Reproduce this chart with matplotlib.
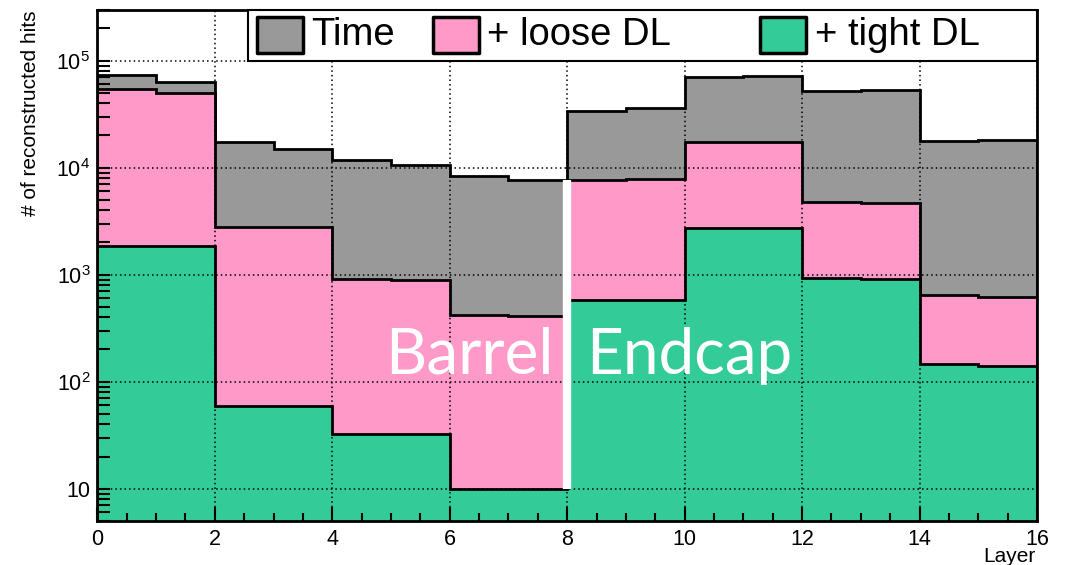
import numpy as np
import matplotlib
matplotlib.use('Agg')
import matplotlib.pyplot as plt
from matplotlib.patches import Rectangle
from matplotlib.ticker import LogLocator, MultipleLocator, FuncFormatter

plt.rcParams['font.family'] = ['Liberation Sans', 'DejaVu Sans']
plt.rcParams['mathtext.fontset'] = 'custom'
plt.rcParams['mathtext.rm'] = 'Liberation Sans'
plt.rcParams['mathtext.it'] = 'Liberation Sans:italic'

# layer bins 0..16
layer_edges = np.arange(0, 17)
time_hits = [7.4e4, 6.3e4, 1.74e4, 1.5e4, 1.19e4, 1.07e4, 8.4e3, 7.7e3,
             3.4e4, 3.6e4, 7.1e4, 7.2e4, 5.2e4, 5.3e4, 1.78e4, 1.8e4]
loose_hits = [5.4e4, 5.0e4, 2.8e3, 2.77e3, 910, 900, 423, 414,
              7.7e3, 7.8e3, 1.72e4, 1.75e4, 4.8e3, 4.7e3, 641, 614]
tight_hits = [1870, 1870, 59.7, 59, 32.7, 32.5, 10, 10,
              575, 580, 2710, 2730, 931, 910, 146, 141]
labels = ['Time', '+ loose DL', '+ tight DL']
colors = ['#999999', '#ff99c8', '#33cc99']

fig = plt.figure(figsize=(10.74, 5.65), dpi=100)
ax = fig.add_axes([0.0906, 0.078, 0.875, 0.905])

for vals, c in zip([time_hits, loose_hits, tight_hits], colors):
    ax.stairs(vals, layer_edges, baseline=1, fill=True,
              facecolor=c, edgecolor='black', linewidth=2)

# barrel / endcap divider
ax.vlines(layer_edges[8], tight_hits[7], time_hits[7], color='white', lw=6, zorder=2.6)

ax.set_yscale('log')
ax.set_xlim(0, 16)
ax.set_ylim(5, 3e5)

ax.xaxis.set_major_locator(MultipleLocator(2))
ax.xaxis.set_minor_locator(MultipleLocator(0.5))
ax.yaxis.set_major_locator(LogLocator(base=10, numticks=10))
ax.yaxis.set_minor_locator(LogLocator(base=10, subs=np.arange(2, 10), numticks=20))

def ylab(v, pos):
    n = int(round(np.log10(v)))
    return '10' if n == 1 else r'$10^{%d}$' % n

ax.yaxis.set_major_formatter(FuncFormatter(ylab))
ax.tick_params(which='both', direction='in', top=False, right=False, labelsize=15.5, width=1.5)
ax.tick_params(axis='x', which='major', length=10, pad=6)
ax.tick_params(axis='x', which='minor', length=6)
ax.tick_params(axis='y', which='both', length=9.5, pad=5)

ax.set_axisbelow(False)
ax.grid(True, which='major', ls=(0, (1, 2)), color='black', lw=1.1)
for s in ax.spines.values():
    s.set_linewidth(2)

# region labels
ax.text(7.77, 119, 'Barrel', color='white', fontsize=46, family='Lato',
        ha='right', va='baseline', zorder=3)
ax.text(8.33, 119, 'Endcap', color='white', fontsize=46, family='Lato',
        ha='left', va='baseline', zorder=3)

# legend drawn by hand (ROOT style box)
ax.add_patch(Rectangle((0.160, 0.899), 0.840, 0.101, transform=ax.transAxes,
                       facecolor='white', edgecolor='black', lw=1.5, zorder=5, clip_on=False))
box_x = [0.170, 0.357, 0.705]
text_x = [0.227, 0.415, 0.764]
for bx, tx, lab, c in zip(box_x, text_x, labels, colors):
    ax.add_patch(Rectangle((bx, 0.915), 0.049, 0.070, transform=ax.transAxes,
                           facecolor=c, edgecolor='black', lw=2.5, joinstyle='round',
                           zorder=6, clip_on=False))
    ax.text(tx, 0.950, lab, transform=ax.transAxes, fontsize=27.5,
            ha='left', va='center', zorder=6)

fig.text(0.028, 0.982, '# of reconstructed hits', rotation=90, fontsize=15,
         ha='center', va='top')
fig.text(0.964, 0.005, 'Layer', fontsize=15, ha='right', va='baseline')

fig.savefig('out.png', dpi=100)
